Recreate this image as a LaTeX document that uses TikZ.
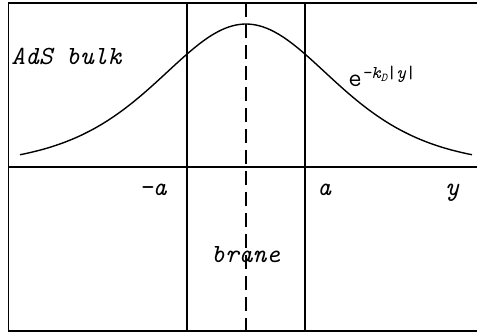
\documentclass[tikz,border=0pt]{standalone}
\usepackage{fontspec}
\begin{document}
\begin{tikzpicture}[x=0.5pt, y=0.5pt,
    lbl/.style={font=\fontsize{13.1}{15}\selectfont\ttfamily\itshape, inner sep=0pt},
    frameline/.style={line width=0.75pt}]
    \useasboundingbox (0,0) rectangle (477,336);
    \def\braneX{246}
    \def\halfWidth{59}
    \def\axisY{169}

    % Frame (open on the right)
    \coordinate (TL) at (8.5,333);
    \coordinate (BL) at (8.5,5);
    \coordinate (TR) at (477,333);
    \coordinate (BR) at (477,5);
    \draw[frameline] (TR) -- (TL) -- (BL) -- (BR);

    % Horizontal axis
    \coordinate (axisL) at (8.5,\axisY);
    \coordinate (axisR) at (477,\axisY);
    \draw[frameline] (axisL) -- (axisR);

    % Lines at -a and a
    \coordinate (mATop) at (\braneX-\halfWidth,333);
    \coordinate (mABot) at (\braneX-\halfWidth,5);
    \coordinate (pATop) at (\braneX+\halfWidth,333);
    \coordinate (pABot) at (\braneX+\halfWidth,5);
    \draw[frameline] (mATop) -- (mABot);
    \draw[frameline] (pATop) -- (pABot);

    % Brane
    \coordinate (braneTop) at (\braneX,333);
    \coordinate (braneBot) at (\braneX,5);
    \draw[frameline, dash pattern=on 7pt off 3.5pt] (braneTop) -- (braneBot);

    % Warp factor
    \draw[line width=0.7pt, domain=20:472, samples=120, smooth]
        plot (\x, {\axisY+143/(cosh((\x-\braneX)/119))^2});

    % Labels
    \node[lbl, anchor=base west] (bulk) at (11,271) {AdS bulk};
    \node[lbl, anchor=base west] (decay) at (348,249)
        {\upshape e\raisebox{4pt}{\fontsize{9}{10}\selectfont\itshape -k\raisebox{-1.2pt}{\fontsize{6}{7}\selectfont D}\textup{|}y\textup{|}}};
    \node[lbl, anchor=base east] (minusA) at (167,140) {-a};
    \node[lbl, anchor=base west] (plusA) at (317,140) {a};
    \node[lbl, anchor=base west] (yLabel) at (445,140) {y};
    \node[lbl, anchor=base west] (brane) at (211,73) {brane};

\end{tikzpicture}
\end{document}
